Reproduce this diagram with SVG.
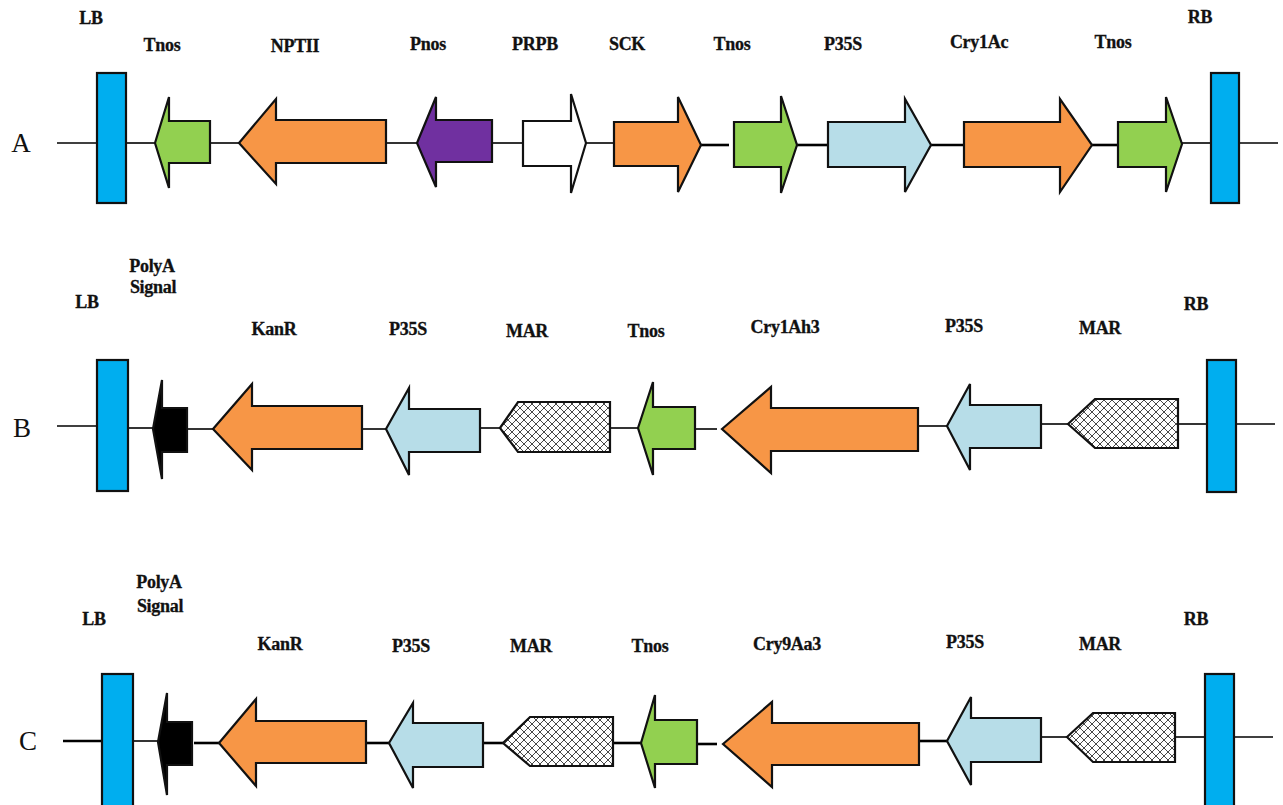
<svg xmlns="http://www.w3.org/2000/svg" width="1283" height="805" viewBox="0 0 1283 805">
<style>
.bb{stroke:#000;stroke-width:1.6;fill:none}
.bt{stroke:#000;stroke-width:2.6;fill:none}
.s{stroke:#111;stroke-width:2.2;stroke-linejoin:miter}
.lb{fill:#00AEEF}
.gr{fill:#92D050}
.or{fill:#F79646}
.pu{fill:#7030A0}
.wh{fill:#FFFFFF}
.lt{fill:#B7DDE8}
.bk{fill:#000}
.mar{fill:url(#hatch)}
.t{font-family:"Liberation Serif",serif;font-weight:bold;font-size:18px;fill:#111;text-anchor:middle;letter-spacing:-0.3px;stroke:#111;stroke-width:0.3}
.row{font-family:"Liberation Serif",serif;font-size:27px;fill:#111;text-anchor:middle}
</style>
<defs>
<pattern id="hatch" width="8" height="8" patternUnits="userSpaceOnUse">
<rect width="8" height="8" fill="#fff"/>
<path d="M0,0 L8,8 M8,0 L0,8" stroke="#333" stroke-width="0.9"/>
</pattern>
</defs>

<g id="connectors">
<line class="bb" x1="57" y1="143" x2="97" y2="143"/>
<line class="bb" x1="126" y1="143" x2="155" y2="143"/>
<line class="bb" x1="210" y1="143" x2="239" y2="143"/>
<line class="bb" x1="386" y1="143" x2="417" y2="143"/>
<line class="bb" x1="492" y1="143" x2="523" y2="143"/>
<line class="bb" x1="586" y1="143" x2="614" y2="143"/>
<line class="bt" x1="701" y1="145" x2="729" y2="145"/>
<line class="bt" x1="797" y1="145" x2="828" y2="145"/>
<line class="bt" x1="931" y1="145" x2="964" y2="145"/>
<line class="bt" x1="1092" y1="145" x2="1118" y2="145"/>
<line class="bb" x1="1182" y1="143" x2="1211" y2="143"/>
<line class="bb" x1="1239" y1="143" x2="1278" y2="143"/>
<line class="bb" x1="57" y1="426" x2="97" y2="426"/>
<line class="bb" x1="128" y1="428" x2="153" y2="428"/>
<line class="bb" x1="187" y1="429" x2="213" y2="429"/>
<line class="bb" x1="362" y1="429" x2="386" y2="429"/>
<line class="bb" x1="480" y1="428" x2="500" y2="428"/>
<line class="bb" x1="610" y1="428" x2="638" y2="428"/>
<line class="bb" x1="695" y1="429" x2="717" y2="429"/>
<line class="bb" x1="918" y1="426" x2="947" y2="426"/>
<line class="bb" x1="1041" y1="424" x2="1068" y2="424"/>
<line class="bb" x1="1178" y1="424" x2="1207" y2="424"/>
<line class="bb" x1="1236" y1="424" x2="1275" y2="424"/>
<line class="bt" x1="63" y1="741" x2="102" y2="741"/>
<line class="bb" x1="133" y1="741" x2="158" y2="741"/>
<line class="bt" x1="194" y1="743" x2="219" y2="743"/>
<line class="bt" x1="366" y1="743" x2="389" y2="743"/>
<line class="bt" x1="483" y1="743" x2="503" y2="743"/>
<line class="bt" x1="613" y1="743" x2="641" y2="743"/>
<line class="bt" x1="697" y1="744" x2="717" y2="744"/>
<line class="bt" x1="919" y1="741" x2="947" y2="741"/>
<line class="bb" x1="1041" y1="737" x2="1067" y2="737"/>
<line class="bb" x1="1175" y1="737" x2="1205" y2="737"/>
<line class="bb" x1="1234" y1="737" x2="1273" y2="737"/>
</g>

<text class="row" x="21" y="152">A</text>
<text class="row" x="22" y="437">B</text>
<text class="row" x="28" y="750">C</text>

<g id="A_LB"><rect class="lb s" x="97" y="73" width="29" height="130"/><text class="t" x="91" y="24">LB</text></g>
<g id="A_Tnos1"><path class="gr s" d="M155,143 L169,97 L169,121 L210,121 L210,163 L169,163 L169,188 Z"/><text class="t" x="162" y="51">Tnos</text></g>
<g id="A_NPTII"><path class="or s" d="M239,143 L276,99 L276,120 L386,120 L386,163 L276,163 L276,184 Z"/><text class="t" x="295" y="52">NPTII</text></g>
<g id="A_Pnos"><path class="pu s" d="M417,143 L436,97 L436,120 L492,120 L492,162 L436,162 L436,187 Z"/><text class="t" x="428" y="50">Pnos</text></g>
<g id="A_PRPB"><path class="wh s" d="M523,121 L571,121 L571,94 L586,143 L571,193 L571,166 L523,166 Z"/><text class="t" x="535" y="50">PRPB</text></g>
<g id="A_SCK"><path class="or s" d="M614,122 L678,122 L678,97 L701,145 L678,192 L678,166 L614,166 Z"/><text class="t" x="627" y="50">SCK</text></g>
<g id="A_Tnos2"><path class="gr s" d="M734,122 L781,122 L781,96 L797,145 L781,193 L781,167 L734,167 Z"/><text class="t" x="732" y="50">Tnos</text></g>
<g id="A_P35S"><path class="lt s" d="M828,122 L905,122 L905,99 L931,145 L905,192 L905,167 L828,167 Z"/><text class="t" x="843" y="50">P35S</text></g>
<g id="A_Cry1Ac"><path class="or s" d="M964,122 L1060,122 L1060,99 L1092,145 L1060,192 L1060,167 L964,167 Z"/><text class="t" x="979" y="48">Cry1Ac</text></g>
<g id="A_Tnos3"><path class="gr s" d="M1118,122 L1166,122 L1166,97 L1182,144 L1166,192 L1166,167 L1118,167 Z"/><text class="t" x="1113" y="48">Tnos</text></g>
<g id="A_RB"><rect class="lb s" x="1211" y="73" width="28" height="130"/><text class="t" x="1200" y="23">RB</text></g>

<g id="B_LB"><rect class="lb s" x="97" y="360" width="31" height="131"/><text class="t" x="87" y="308">LB</text></g>
<g id="B_PolyA"><path class="bk s" d="M153,429 L162,380 L162,408 L187,408 L187,452 L162,452 L162,479 Z" stroke-width="1"/><text class="t" x="152" y="272">PolyA</text><text class="t" x="153" y="293">Signal</text></g>
<g id="B_KanR"><path class="or s" d="M213,429 L252,384 L252,406 L362,406 L362,449 L252,449 L252,470 Z"/><text class="t" x="274" y="335">KanR</text></g>
<g id="B_P35S1"><path class="lt s" d="M386,429 L409,388 L409,409 L480,409 L480,452 L409,452 L409,475 Z"/><text class="t" x="408" y="335">P35S</text></g>
<g id="B_MAR1"><path class="mar s" d="M500,428 L518,402 L610,402 L610,452 L518,452 Z"/><text class="t" x="527" y="337">MAR</text></g>
<g id="B_Tnos"><path class="gr s" d="M638,428 L653,382 L653,407 L695,407 L695,449 L653,449 L653,475 Z"/><text class="t" x="646" y="337">Tnos</text></g>
<g id="B_Cry1Ah3"><path class="or s" d="M722,429 L771,387 L771,408 L918,408 L918,451 L771,451 L771,473 Z"/><text class="t" x="785" y="333">Cry1Ah3</text></g>
<g id="B_P35S2"><path class="lt s" d="M947,426 L970,384 L970,405 L1041,405 L1041,448 L970,448 L970,470 Z"/><text class="t" x="964" y="332">P35S</text></g>
<g id="B_MAR2"><path class="mar s" d="M1068,424 L1095,399 L1178,399 L1178,448 L1095,448 Z"/><text class="t" x="1100" y="334">MAR</text></g>
<g id="B_RB"><rect class="lb s" x="1207" y="360" width="29" height="132"/><text class="t" x="1196" y="310">RB</text></g>

<g id="C_LB"><rect class="lb s" x="102" y="674" width="31" height="140"/><text class="t" x="94" y="625">LB</text></g>
<g id="C_PolyA"><path class="bk s" d="M158,742 L167,693 L167,722 L192,722 L192,765 L167,765 L167,795 Z" stroke-width="1"/><text class="t" x="159" y="588">PolyA</text><text class="t" x="160" y="612">Signal</text></g>
<g id="C_KanR"><path class="or s" d="M219,743 L256,699 L256,721 L366,721 L366,763 L256,763 L256,786 Z"/><text class="t" x="280" y="650">KanR</text></g>
<g id="C_P35S1"><path class="lt s" d="M389,743 L413,703 L413,723 L483,723 L483,767 L413,767 L413,788 Z"/><text class="t" x="411" y="652">P35S</text></g>
<g id="C_MAR1"><path class="mar s" d="M503,743 L530,717 L613,717 L613,766 L530,766 Z"/><text class="t" x="531" y="652">MAR</text></g>
<g id="C_Tnos"><path class="gr s" d="M641,743 L655,695 L655,720 L697,720 L697,764 L655,764 L655,788 Z"/><text class="t" x="650" y="652">Tnos</text></g>
<g id="C_Cry9Aa3"><path class="or s" d="M723,744 L772,702 L772,723 L919,723 L919,765 L772,765 L772,787 Z"/><text class="t" x="787" y="650">Cry9Aa3</text></g>
<g id="C_P35S2"><path class="lt s" d="M947,741 L971,697 L971,718 L1041,718 L1041,762 L971,762 L971,785 Z"/><text class="t" x="965" y="648">P35S</text></g>
<g id="C_MAR2"><path class="mar s" d="M1067,737 L1093,713 L1175,713 L1175,762 L1093,762 Z"/><text class="t" x="1100" y="650">MAR</text></g>
<g id="C_RB"><rect class="lb s" x="1205" y="674" width="29" height="140"/><text class="t" x="1196" y="625">RB</text></g>
</svg>
